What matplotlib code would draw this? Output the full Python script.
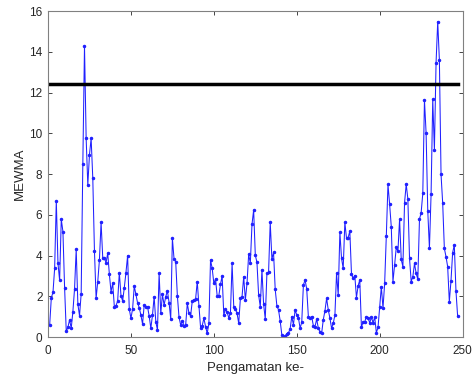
import matplotlib
matplotlib.use("Agg")
import matplotlib.pyplot as plt
import numpy as np

mewma = [
    0.59, 1.93, 2.19, 3.37, 6.69, 3.62, 2.78, 5.78, 5.17, 2.42,
    0.28, 0.48, 0.84, 0.43, 1.25, 2.36, 4.30, 1.61, 1.04, 2.13,
    8.51, 14.28, 9.75, 7.46, 8.94, 9.75, 7.79, 4.24, 1.90, 2.72,
    3.78, 5.63, 3.89, 3.86, 3.65, 4.11, 3.08, 2.22, 2.64, 1.49,
    1.54, 1.77, 3.16, 2.03, 1.77, 2.42, 3.16, 3.99, 1.37, 0.92,
    1.37, 2.50, 2.09, 1.68, 1.44, 1.08, 0.64, 1.57, 1.49, 1.49,
    1.03, 0.43, 1.08, 1.98, 0.75, 0.34, 3.13, 1.16, 2.09, 1.57,
    1.98, 2.27, 1.69, 0.88, 4.84, 3.83, 3.70, 2.03, 0.97, 0.59,
    0.79, 0.56, 0.59, 1.65, 1.16, 1.04, 1.77, 1.82, 1.87, 2.72,
    1.54, 0.46, 0.56, 0.92, 0.51, 0.18, 0.67, 3.78, 3.37, 2.63,
    2.85, 2.03, 2.03, 2.58, 3.00, 1.08, 1.37, 1.21, 0.95, 1.16,
    3.62, 1.49, 1.37, 1.16, 0.67, 1.90, 1.98, 2.96, 1.82, 2.63,
    4.06, 3.62, 5.53, 6.23, 4.02, 3.66, 2.06, 1.49, 3.29, 1.62,
    0.88, 3.13, 3.18, 5.63, 3.83, 4.15, 2.34, 1.54, 1.33, 0.79,
    0.10, 0.02, 0.05, 0.16, 0.20, 0.40, 1.00, 0.60, 1.33, 1.08,
    0.95, 0.43, 0.72, 2.55, 2.80, 2.36, 1.00, 0.95, 1.00, 0.56,
    0.51, 0.88, 0.43, 0.26, 0.18, 0.85, 1.29, 1.90, 1.33, 0.92,
    0.43, 0.67, 1.08, 3.13, 2.06, 5.14, 3.86, 3.37, 5.63, 4.84,
    4.88, 5.20, 3.08, 2.88, 3.01, 1.93, 2.52, 2.80, 0.47, 0.75,
    0.75, 1.00, 0.92, 0.70, 0.97, 0.70, 0.97, 0.21, 0.47, 1.49,
    2.47, 1.41, 2.63, 4.96, 7.49, 6.51, 5.41, 2.72, 3.53, 4.40,
    4.20, 5.78, 3.81, 3.45, 6.59, 7.50, 6.77, 3.86, 2.72, 2.96,
    3.61, 3.12, 2.83, 5.78, 6.10, 7.05, 11.63, 10.00, 6.18, 4.35,
    7.02, 11.66, 9.18, 13.46, 15.48, 13.60, 7.98, 6.56, 4.35, 3.94,
    3.45, 1.73, 2.76, 4.14, 4.52, 2.26, 1.03,
]
ucl = 12.4
x_ticks = [0, 50, 100, 150, 200, 250]
y_ticks = [0, 2, 4, 6, 8, 10, 12, 14, 16]

obs = np.arange(1, len(mewma) + 1)

plt.rcParams['font.family'] = ['Liberation Sans', 'DejaVu Sans']
fig = plt.figure(figsize=(4.73, 3.82), dpi=100)
ax = fig.add_axes([0.1015, 0.1178, 0.8765, 0.8534])

ax.plot(obs, mewma, color='#2020ff', lw=0.75, marker='.', ms=3)
ax.plot([obs[0], obs[-1]], [ucl, ucl], color='black', lw=2.5)

ax.set_xlim(0, 250)
ax.set_ylim(0, 16)
ax.set_xticks(x_ticks)
ax.set_yticks(y_ticks)
ax.tick_params(direction='in', length=3, width=0.6, top=True, right=True,
               labelsize=8.5, colors='#262626')
ax.tick_params(axis='x', pad=5.5)
ax.tick_params(axis='y', pad=4)
for s in ax.spines.values():
    s.set_color('#808080')
    s.set_linewidth(0.8)
ax.set_xlabel('Pengamatan ke-', fontsize=9.5, color='#262626', labelpad=4)
ax.set_ylabel('MEWMA', fontsize=9.5, color='#262626', labelpad=2.5)

fig.savefig('out.png', dpi=100)
